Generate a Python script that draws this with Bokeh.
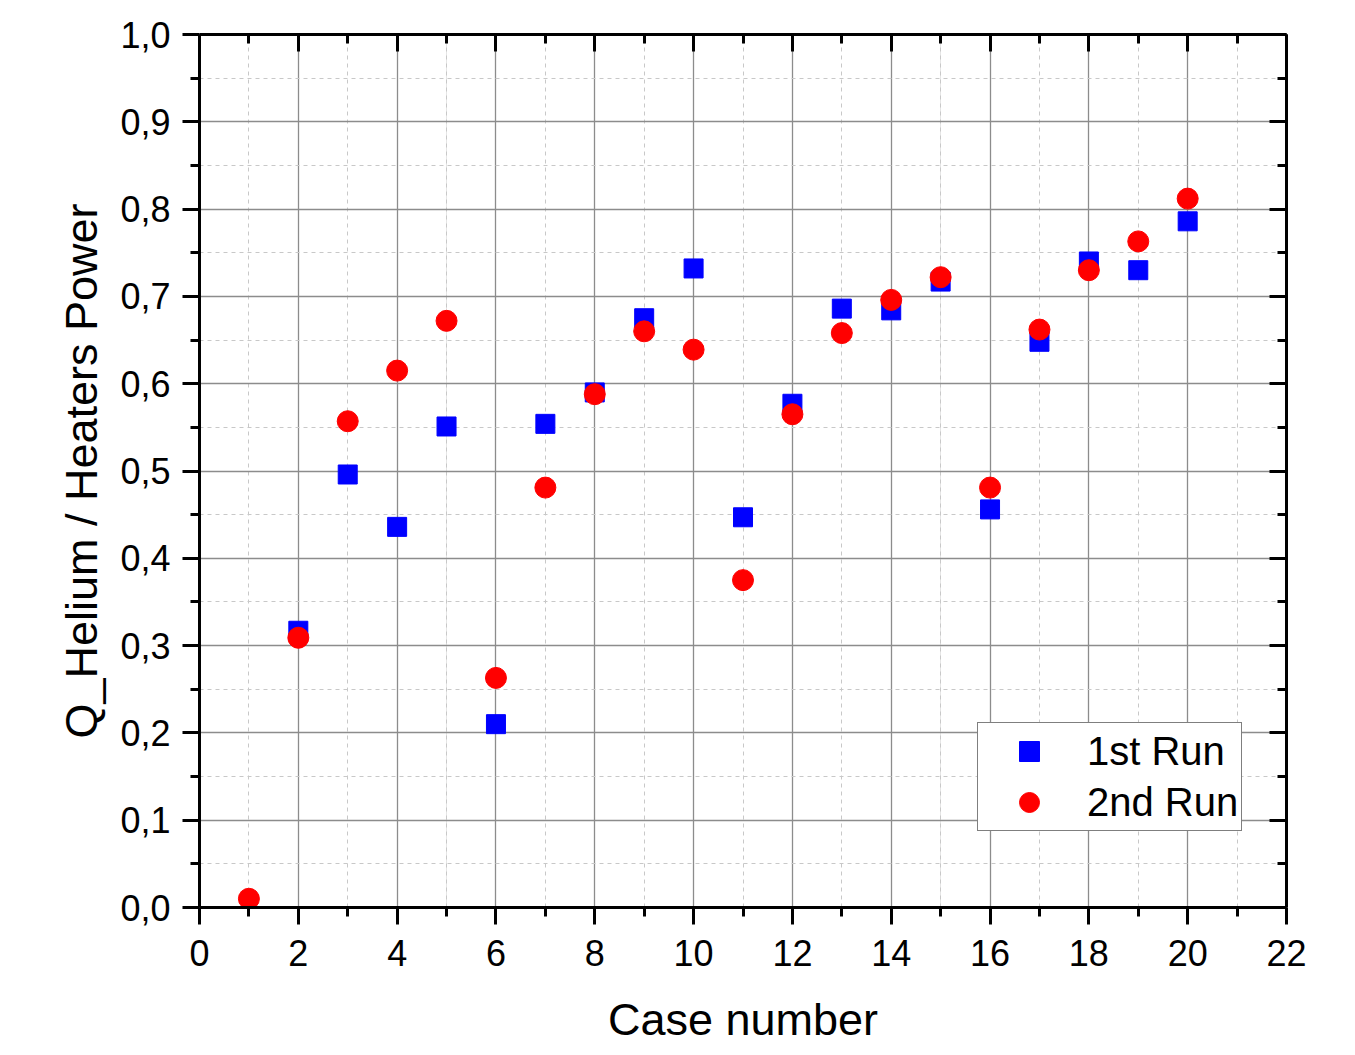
from bokeh.plotting import figure
from bokeh.models import (Range1d, LinearAxis, FixedTicker, Legend, LegendItem, Grid)
from bokeh.embed import file_html
from bokeh.resources import INLINE

# ---- data ----
run1_case = [2, 3, 4, 5, 6, 7, 8, 9, 10, 11, 12, 13, 14, 15, 16, 17, 18, 19, 20]
run1_val = [0.317, 0.496, 0.436, 0.551, 0.210, 0.554, 0.590, 0.675, 0.732, 0.447,
            0.577, 0.686, 0.684, 0.717, 0.456, 0.648, 0.740, 0.730, 0.786]
run2_case = [1, 2, 3, 4, 5, 6, 7, 8, 9, 10, 11, 12, 13, 14, 15, 16, 17, 18, 19, 20]
run2_val = [0.010, 0.309, 0.557, 0.615, 0.672, 0.263, 0.481, 0.588, 0.660, 0.639,
            0.375, 0.565, 0.658, 0.696, 0.722, 0.481, 0.662, 0.730, 0.763, 0.812]

x_ticks = [0, 2, 4, 6, 8, 10, 12, 14, 16, 18, 20, 22]
x_minor = [1, 3, 5, 7, 9, 11, 13, 15, 17, 19, 21]
y_ticks = [0.0, 0.1, 0.2, 0.3, 0.4, 0.5, 0.6, 0.7, 0.8, 0.9, 1.0]
y_tick_labels = ["0,0", "0,1", "0,2", "0,3", "0,4", "0,5", "0,6", "0,7", "0,8", "0,9", "1,0"]
y_minor = [0.05, 0.15, 0.25, 0.35, 0.45, 0.55, 0.65, 0.75, 0.85, 0.95]

FONT = "Liberation Sans"

p = figure(width=1355, height=1055, output_backend="svg", toolbar_location=None,
           x_range=Range1d(0, 22), y_range=Range1d(0, 1.0),
           x_axis_location=None, y_axis_location=None,
           min_border_left=199, min_border_right=69, min_border_top=34, min_border_bottom=148)
p.outline_line_color = None
p.background_fill_color = "white"
p.border_fill_color = "white"

xt = FixedTicker(ticks=x_ticks, minor_ticks=x_minor)
yt = FixedTicker(ticks=y_ticks, minor_ticks=y_minor)


def style_axis(ax, out, label_size):
    ax.axis_line_width = 3
    ax.axis_line_color = "black"
    ax.major_tick_line_width = 3
    ax.minor_tick_line_width = 3
    ax.major_tick_line_color = "black"
    ax.minor_tick_line_color = "black"
    if out:
        ax.major_tick_out = 17
        ax.major_tick_in = 0
        ax.minor_tick_out = 9
        ax.minor_tick_in = 0
    else:
        ax.major_tick_out = 0
        ax.major_tick_in = 17
        ax.minor_tick_out = 0
        ax.minor_tick_in = 9
    ax.major_label_text_font = FONT
    ax.major_label_text_font_size = label_size
    ax.major_label_text_color = "black"
    ax.axis_label_text_font = FONT
    ax.axis_label_text_font_size = "45px"
    ax.axis_label_text_font_style = "normal"
    ax.axis_label_text_color = "black"


xb = LinearAxis(ticker=xt, axis_label="Case number")
style_axis(xb, True, "36px")
xb.major_label_standoff = 15
xb.axis_label_standoff = 25
p.add_layout(xb, "below")

yl = LinearAxis(ticker=yt, axis_label="Q_Helium / Heaters Power")
style_axis(yl, True, "36px")
yl.major_label_overrides = dict(zip(y_ticks, y_tick_labels))
yl.major_label_standoff = 12
yl.axis_label_standoff = 10
p.add_layout(yl, "left")

xa = LinearAxis(ticker=xt)
style_axis(xa, False, "0px")
xa.major_label_text_alpha = 0
p.add_layout(xa, "above")

yr = LinearAxis(ticker=yt)
style_axis(yr, False, "0px")
yr.major_label_text_alpha = 0
p.add_layout(yr, "right")

for dim, tk in ((0, xt), (1, yt)):
    g = Grid(dimension=dim, ticker=tk)
    g.grid_line_color = "#8c8c8c"
    g.grid_line_width = 1.3
    g.minor_grid_line_color = "#c8c8c8"
    g.minor_grid_line_width = 1
    g.minor_grid_line_dash = "4 4"
    p.add_layout(g, "center")

r1 = p.scatter(run1_case, run1_val, marker="square", size=19,
               fill_color="#0000ff", line_color="#0000ff")
r2 = p.scatter(run2_case, run2_val, marker="circle", size=21,
               fill_color="#ff0000", line_color="#ff0000")

legend = Legend(items=[LegendItem(label="1st Run", renderers=[r1]),
                       LegendItem(label="2nd Run", renderers=[r2])],
                location=(778, 76))
legend.label_text_font = FONT
legend.label_text_font_size = "40px"
legend.label_text_color = "black"
legend.glyph_width = 96
legend.glyph_height = 50
legend.label_standoff = 10
legend.padding = 3
legend.spacing = 1
legend.margin = 0
legend.border_line_color = "black"
legend.border_line_width = 1.5
legend.background_fill_color = "white"
legend.background_fill_alpha = 1
p.add_layout(legend, "center")

open("out.html", "w").write(file_html(p, INLINE))
